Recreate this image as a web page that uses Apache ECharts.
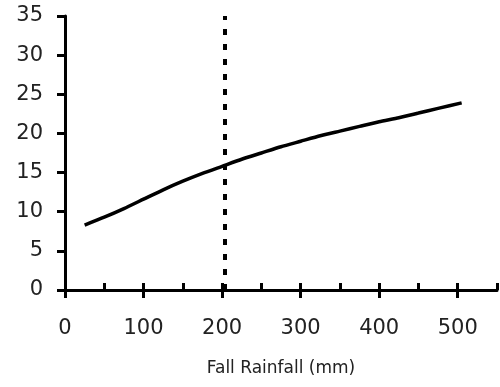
<!DOCTYPE html>
<html>
<head>
<meta charset="utf-8">
<script src="https://cdn.jsdelivr.net/npm/echarts@6/dist/echarts.min.js"></script>
<style>
  html, body { margin: 0; padding: 0; background: #fff; }
  #chart { width: 500px; height: 387px; }
</style>
</head>
<body>
<div id="chart"></div>
<script>
// fall rainfall (mm) vs response
const rainfall = [25, 50, 75, 100, 125, 150, 175, 200, 225, 250, 275, 300, 325, 350, 375, 400, 425, 450, 475, 505];
const response = [8.3, 9.3, 10.4, 11.6, 12.8, 13.9, 14.9, 15.8, 16.7, 17.5, 18.3, 19.0, 19.7, 20.3, 20.9, 21.5, 22.0, 22.6, 23.2, 23.9];
const cutoff = 203;
const majorTicks = [0, 100, 200, 300, 400, 500];

const xTitle = "Fall Rainfall (mm)";
const font = "DejaVu Sans";

const chart = echarts.init(document.getElementById("chart"));

const axisLine = { show: true, lineStyle: { color: "#000", width: 3 } };

chart.setOption({
    animation: false,
    grid: { left: 65, right: 2, top: 16, bottom: 97 },
    xAxis: [
        {
            type: "value",
            min: 0,
            max: 550,
            interval: 50,
            name: xTitle,
            nameLocation: "middle",
            nameGap: 70,
            nameTextStyle: { color: "#222", fontFamily: font, fontSize: 17 },
            axisLine: axisLine,
            axisTick: { inside: true, length: 7, lineStyle: { color: "#000", width: 3 } },
            axisLabel: {
                margin: 28,
                color: "#222",
                fontFamily: font,
                fontSize: 21,
                formatter: (v) => (v % 100 === 0 && v <= 500 ? String(v) : "")
            },
            splitLine: { show: false }
        },
        {
            // major ticks poking below the axis
            type: "value",
            position: "bottom",
            min: 0,
            max: 550,
            axisLine: { show: false },
            axisTick: { show: true, length: 8, customValues: majorTicks, lineStyle: { color: "#000", width: 3 } },
            axisLabel: { show: false },
            splitLine: { show: false }
        }
    ],
    yAxis: {
        type: "value",
        min: 0,
        max: 35,
        interval: 5,
        axisLine: axisLine,
        axisTick: { show: true, length: 8, lineStyle: { color: "#000", width: 3 } },
        axisLabel: { margin: 22, color: "#222", fontFamily: font, fontSize: 21 },
        splitLine: { show: false }
    },
    series: [
        {
            type: "line",
            xAxisIndex: 0,
            data: rainfall.map((x, i) => [x, response[i]]),
            showSymbol: false,
            smooth: 0.2,
            lineStyle: { color: "#000", width: 3.5 },
            markLine: {
                silent: true,
                symbol: "none",
                label: { show: false },
                lineStyle: { color: "#000", width: 4, type: [6, 9] },
                data: [{ xAxis: cutoff }]
            }
        }
    ]
});
</script>
</body>
</html>
